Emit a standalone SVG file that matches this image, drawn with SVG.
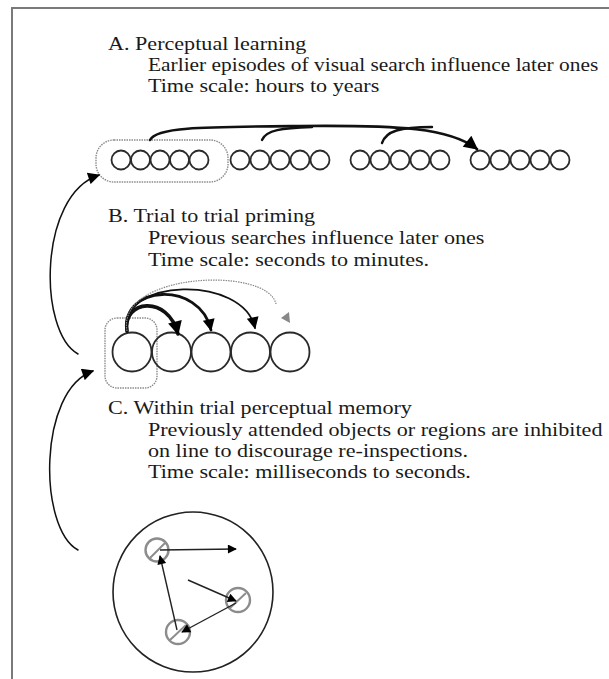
<svg xmlns="http://www.w3.org/2000/svg" width="609" height="679" viewBox="0 0 609 679">
  <style>
    text { font-family: "Liberation Serif", "Times New Roman", serif; font-size: 19px; fill: #1a1a1a; }
    .unit { fill: none; stroke: #2a2a2a; stroke-width: 1.8; }
    .halo { fill: none; stroke: #8a8a8a; stroke-width: 1.4; stroke-dasharray: 1.5 1; }
    .arc { fill: none; stroke: #111; stroke-linecap: round; }
    .spot { fill: #fff; stroke: #8c8c8c; stroke-width: 2.4; }
    .slash { stroke: #8c8c8c; stroke-width: 2; }
    .ray { fill: none; stroke: #222; stroke-width: 1.4; }
  </style>
  <defs>
    <marker id="headBig" viewBox="0 0 10 10" refX="9" refY="5" markerUnits="userSpaceOnUse" markerWidth="18" markerHeight="14" orient="auto">
      <path d="M0,0 L10,5 L0,10 z" fill="#000"/>
    </marker>
    <marker id="headMid" viewBox="0 0 10 10" refX="9" refY="5" markerUnits="userSpaceOnUse" markerWidth="14" markerHeight="12" orient="auto">
      <path d="M0,0 L10,5 L0,10 z" fill="#000"/>
    </marker>
    <marker id="headSmall" viewBox="0 0 10 10" refX="9" refY="5" markerUnits="userSpaceOnUse" markerWidth="11" markerHeight="9" orient="auto">
      <path d="M0,0 L10,5 L0,10 z" fill="#000"/>
    </marker>
  </defs>

  <!-- outer frame -->
  <rect x="12" y="8" width="640" height="720" fill="#fff" stroke="#7a7a7a" stroke-width="2"/>

  <!-- labels use a slightly widened serif (x scaled by 1.165) -->
  <g id="label-a" transform="scale(1.165,1)">
    <text x="92.7" y="50">A. Perceptual learning</text>
    <text x="127" y="71" style="font-size:18.4px">Earlier episodes of visual search influence later ones</text>
    <text x="127" y="92">Time scale: hours to years</text>
  </g>
  <g id="episode-1">
    <rect class="halo" x="96" y="140" width="132" height="42" rx="18"/>
    <circle class="unit" cx="121" cy="160" r="9.5"/>
    <circle class="unit" cx="140.5" cy="160" r="9.5"/>
    <circle class="unit" cx="160" cy="160" r="9.5"/>
    <circle class="unit" cx="179.5" cy="160" r="9.5"/>
    <circle class="unit" cx="199" cy="160" r="9.5"/>
  </g>
  <g id="episode-2">
    <circle class="unit" cx="240" cy="160" r="9.5"/>
    <circle class="unit" cx="260" cy="160" r="9.5"/>
    <circle class="unit" cx="280" cy="160" r="9.5"/>
    <circle class="unit" cx="300" cy="160" r="9.5"/>
    <circle class="unit" cx="320" cy="160" r="9.5"/>
  </g>
  <g id="episode-3">
    <circle class="unit" cx="360" cy="160" r="9.5"/>
    <circle class="unit" cx="380" cy="160" r="9.5"/>
    <circle class="unit" cx="400" cy="160" r="9.5"/>
    <circle class="unit" cx="420" cy="160" r="9.5"/>
    <circle class="unit" cx="440" cy="160" r="9.5"/>
  </g>
  <g id="episode-4">
    <circle class="unit" cx="480" cy="160" r="9.5"/>
    <circle class="unit" cx="500" cy="160" r="9.5"/>
    <circle class="unit" cx="520" cy="160" r="9.5"/>
    <circle class="unit" cx="540" cy="160" r="9.5"/>
    <circle class="unit" cx="560" cy="160" r="9.5"/>
  </g>

  <!-- B: trial to trial priming -->
  <g id="label-b" transform="scale(1.165,1)">
    <text x="92.7" y="222">B. Trial to trial priming</text>
    <text x="127" y="244">Previous searches influence later ones</text>
    <text x="127" y="266">Time scale: seconds to minutes.</text>
  </g>
  <g id="trials">
    <rect class="halo" x="105" y="318" width="52" height="70" rx="12"/>
    <circle class="unit" cx="132" cy="352" r="19.5"/>
    <circle class="unit" cx="171.5" cy="352" r="19.5"/>
    <circle class="unit" cx="211" cy="352" r="19.5"/>
    <circle class="unit" cx="250.5" cy="352" r="19.5"/>
    <circle class="unit" cx="290" cy="352" r="19.5"/>
  </g>

  <!-- C: within trial perceptual memory -->
  <g id="label-c" transform="scale(1.165,1)">
    <text x="92.7" y="414">C. Within trial perceptual memory</text>
    <text x="127" y="436">Previously attended objects or regions are inhibited</text>
    <text x="127" y="457">on line to discourage re-inspections.</text>
    <text x="127" y="478">Time scale: milliseconds to seconds.</text>
  </g>
  <g id="display">
    <circle cx="193" cy="592" r="80" fill="none" stroke="#222" stroke-width="1.6"/>
  </g>
  <g id="spot-1">
    <circle class="spot" cx="157" cy="550" r="11.5"/>
    <line class="slash" x1="150" y1="558" x2="165" y2="543"/>
  </g>
  <g id="spot-2">
    <circle class="spot" cx="238" cy="600" r="12"/>
    <line class="slash" x1="230" y1="608" x2="246" y2="593"/>
  </g>
  <g id="spot-3">
    <circle class="spot" cx="178" cy="632" r="12"/>
    <line class="slash" x1="170" y1="640" x2="186" y2="625"/>
  </g>

  <!-- connectors -->
  <g id="connectors">
    <!-- A: episodes feeding the latest one -->
    <path class="arc" stroke-width="2.6" d="M150,140 C156,127 200,127 300,126 C400,125 450,128 477,149" marker-end="url(#headBig)"/>
    <path class="arc" stroke-width="2.4" d="M262,140 C266,130 282,128 312,127"/>
    <path class="arc" stroke-width="2.4" d="M382,143 C386,131 400,127 432,127"/>

    <!-- B: first trial primes the following ones -->
    <path class="arc" stroke-width="3.6" d="M127,331 C122,300 168,294 178,334" marker-end="url(#headBig)"/>
    <path class="arc" stroke-width="2.8" d="M127,331 C120,285 200,280 211,330" marker-end="url(#headMid)"/>
    <path class="arc" stroke-width="1.8" d="M127,331 C118,278 243,274 255,328" marker-end="url(#headMid)"/>
    <path fill="none" stroke="#888" stroke-width="1.2" stroke-dasharray="1.5 1" d="M127,331 C116,272 268,266 276,304"/>
    <polygon points="281,318 289,312 290,323" fill="#888"/>

    <!-- loops between levels -->
    <path class="arc" stroke-width="1.5" d="M78,354 C38,332 38,195 99,175" marker-end="url(#headMid)"/>
    <path class="arc" stroke-width="1.5" d="M78,550 C38,528 38,390 93,371" marker-end="url(#headMid)"/>

    <!-- C: scan path with inhibition of return -->
    <line class="ray" x1="160" y1="550" x2="236" y2="549" marker-end="url(#headSmall)"/>
    <line class="ray" x1="188" y1="580" x2="236" y2="601" marker-end="url(#headSmall)"/>
    <line class="ray" x1="236" y1="603" x2="182" y2="632" marker-end="url(#headSmall)"/>
    <line class="ray" x1="177" y1="630" x2="160" y2="556" marker-end="url(#headSmall)"/>
  </g>
</svg>
